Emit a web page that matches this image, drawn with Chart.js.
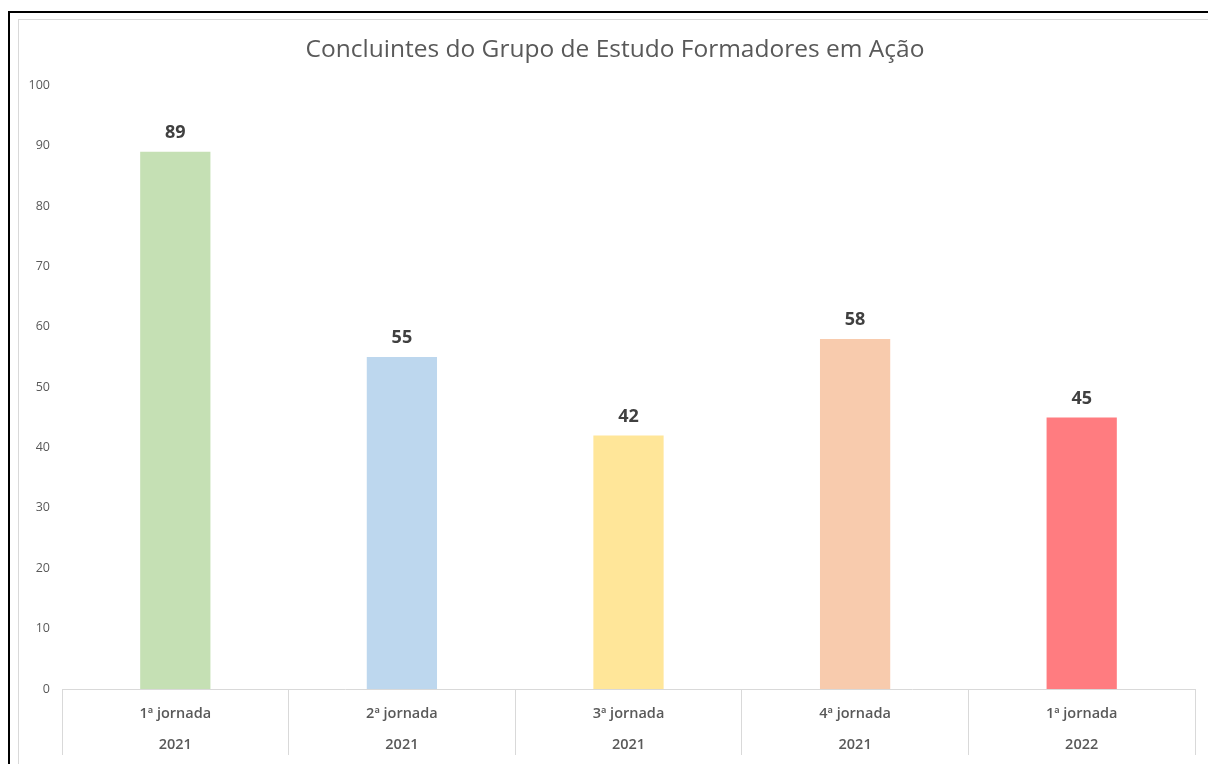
<!DOCTYPE html>
<html>
<head>
<meta charset="utf-8">
<script src="https://cdn.jsdelivr.net/npm/chart.js@4/dist/chart.umd.min.js"></script>
<style>
  html, body { margin: 0; padding: 0; background: #fff; overflow: hidden; }
  #outer { position: absolute; left: 8px; top: 11px; width: 1300px; height: 800px;
           border-top: 2px solid #000; border-left: 2px solid #000; }
  #inner { position: absolute; left: 18px; top: 19px; width: 1300px; height: 800px;
           border-top: 1px solid #d9d9d9; border-left: 1px solid #d9d9d9; }
  #wrap { position: absolute; left: 0; top: 0; width: 1208px; height: 764px; overflow: hidden; }
</style>
</head>
<body>
<div id="outer"></div>
<div id="inner"></div>
<div id="wrap"><canvas id="c" width="1230" height="764"></canvas></div>
<script>
const titleText = 'Concluintes do Grupo de Estudo Formadores em Ação';
const jornadas = ['1ª jornada', '2ª jornada', '3ª jornada', '4ª jornada', '1ª jornada'];
const anos = ['2021', '2021', '2021', '2021', '2022'];
const concluintes = [89, 55, 42, 58, 45];
const barColors = ['#C5E0B4', '#BDD7EE', '#FFE699', '#F8CBAD', '#FF7C80'];
const yMin = 0, yMax = 100, yStep = 10;

const labels = jornadas.map((j, i) => [j, anos[i]]);

const valueLabels = {
  id: 'valueLabels',
  afterDatasetsDraw(chart) {
    const ctx = chart.ctx;
    const meta = chart.getDatasetMeta(0);
    ctx.save();
    ctx.font = 'bold 18px "Open Sans", sans-serif';
    ctx.fillStyle = '#404040';
    ctx.textAlign = 'center';
    ctx.textBaseline = 'middle';
    meta.data.forEach((bar, i) => {
      ctx.fillText(String(concluintes[i]), bar.x, bar.y - 19);
    });
    ctx.restore();
  }
};

new Chart(document.getElementById('c'), {
  type: 'bar',
  data: {
    labels: labels,
    datasets: [{
      data: concluintes,
      backgroundColor: barColors,
      borderWidth: 0,
      categoryPercentage: 1,
      barPercentage: 0.31
    }]
  },
  options: {
    responsive: false,
    animation: false,
    layout: { padding: { left: 0, right: 0, top: 0, bottom: 5 } },
    plugins: {
      legend: { display: false },
      tooltip: { enabled: false },
      title: {
        display: true,
        text: titleText,
        color: '#595959',
        font: { family: '"Open Sans", sans-serif', size: 24.5, weight: 'normal', lineHeight: 1.2 },
        padding: { top: 35, bottom: 21 }
      }
    },
    scales: {
      x: {
        grid: { display: true, offset: true, drawOnChartArea: false, drawTicks: true,
                tickLength: 66, color: '#d9d9d9', lineWidth: 1 },
        border: { display: true, color: '#d9d9d9', width: 1 },
        afterFit(scale) { scale.height = 70; },
        ticks: { color: '#595959', padding: -56, maxRotation: 0, autoSkip: false,
                 font: { family: '"Open Sans", sans-serif', size: 14.5, weight: '600', lineHeight: 2.1 } }
      },
      y: {
        min: yMin, max: yMax,
        grid: { display: false, drawTicks: false },
        border: { display: false },
        afterFit(scale) { scale.width = 62; },
        ticks: { stepSize: yStep, color: '#595959', padding: 12,
                 font: { family: '"Open Sans", sans-serif', size: 12.5 } }
      },
      spacer: {
        type: 'linear',
        position: 'right',
        display: true,
        grid: { display: false, drawTicks: false },
        border: { display: false },
        ticks: { display: false },
        afterFit(scale) { scale.width = 35; }
      }
    }
  },
  plugins: [valueLabels]
});
</script>
</body>
</html>
